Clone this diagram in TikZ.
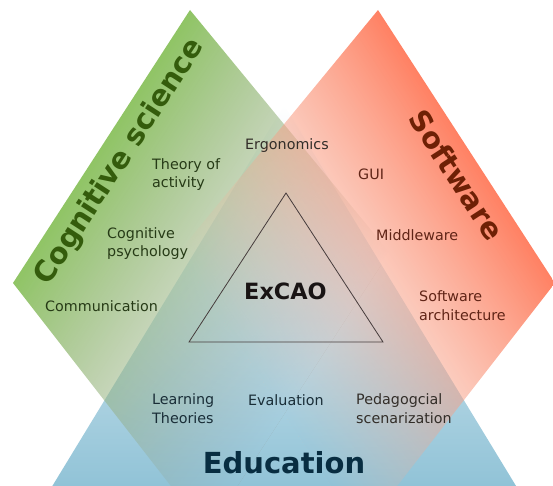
\documentclass[tikz,border=0pt]{standalone}
\usepackage{fontspec}
\setmainfont{DejaVu Sans}
\usetikzlibrary{fadings}

\definecolor{cogfill}{RGB}{143,196,100}
\definecolor{cogend}{RGB}{150,152,148}
\definecolor{softfill}{RGB}{255,128,98}
\definecolor{softend}{RGB}{240,190,168}
\definecolor{edufill}{RGB}{145,195,215}
\definecolor{cogtext}{RGB}{38,58,22}
\definecolor{cogtitle}{RGB}{52,92,12}
\definecolor{softtext}{RGB}{96,36,22}
\definecolor{softtitle}{RGB}{110,32,5}
\definecolor{edutext}{RGB}{25,45,55}
\definecolor{edutitle}{RGB}{8,45,65}
\definecolor{midtext}{RGB}{50,45,40}
\definecolor{coretext}{RGB}{25,20,20}
\definecolor{coreline}{RGB}{70,60,60}

\pgfdeclarehorizontalshading{rampshade}{100bp}{color(0bp)=(pgftransparent!0); color(100bp)=(pgftransparent!100)}
\pgfdeclarefading{rampfade}{\pgfuseshading{rampshade}}

\begin{document}
\begin{tikzpicture}[x=1pt,y=-1pt,
    lbl/.style={font=\fontsize{14.3}{18.2}\selectfont,align=left,inner sep=0pt,anchor=base west},
    head/.style={font=\bfseries\fontsize{29}{34}\selectfont,inner sep=0pt},
    band/.style={path fading=rampfade,fit fading=false,fading transform={xshift=148bp,xscale=3,yscale=10}}]
  \useasboundingbox (0,0) rectangle (553,486);

  \begin{scope}
    \clip (0,0) rectangle (553,486);
    \fill[edufill,path fading=rampfade,fit fading=false,
      fading transform={shift={(284,486)},rotate=90,xshift=190bp,xscale=3.8,yscale=10}]
      (284,105) -- (7,560) -- (561,560) -- cycle;

    \begin{scope}
      \clip (190,10) -- (13,283) -- (468,868) -- (655,575) -- cycle;
      \begin{scope}[transform canvas={shift={(190,10)},rotate=-33}]
        \shade[band,left color=cogfill,right color=cogend] (0,-450) rectangle (300,450);
      \end{scope}
    \end{scope}

    \begin{scope}
      \clip (378,10) -- (555,283) -- (100,868) -- (-87,575) -- cycle;
      \begin{scope}[transform canvas={shift={(378,10)},rotate=-147}]
        \shade[band,left color=softfill,right color=softend] (0,-450) rectangle (300,450);
      \end{scope}
    \end{scope}
  \end{scope}

  \draw[coreline,line width=0.8pt] (286,193) -- (189,342) -- (383,342) -- cycle;

  \node[lbl,text=midtext] (ergo) at (245,150) {Ergonomics};
  \node[lbl,text=cogtext] (activity) at (152,188) {Theory of\\activity};
  \node[lbl,text=cogtext] (psycho) at (107,256.5) {Cognitive\\psychology};
  \node[lbl,text=cogtext] (comm) at (45,311) {Communication};
  \node[lbl,text=softtext] (gui) at (358,179) {GUI};
  \node[lbl,text=softtext] (middle) at (376,240) {Middleware};
  \node[lbl,text=softtext] (archi) at (419,320) {Software\\architecture};
  \node[lbl,text=edutext] (learn) at (152,423) {Learning\\Theories};
  \node[lbl,text=edutext] (eval) at (248,405) {Evaluation};
  \node[lbl,text=midtext] (peda) at (356,423) {Pedagogcial\\scenarization};

  \node[font=\bfseries\fontsize{22.4}{26}\selectfont,inner sep=0pt,anchor=base west,text=coretext] (core) at (244,299) {ExCAO};
  \node[head,anchor=base,text=edutitle] (edu) at (284,473) {Education};
  \node[head,rotate=57,text=cogtitle] (cog) at (120,162) {Cognitive science};
  \node[head,rotate=-57,text=softtitle] (soft) at (457,175) {Software};
\end{tikzpicture}
\end{document}
